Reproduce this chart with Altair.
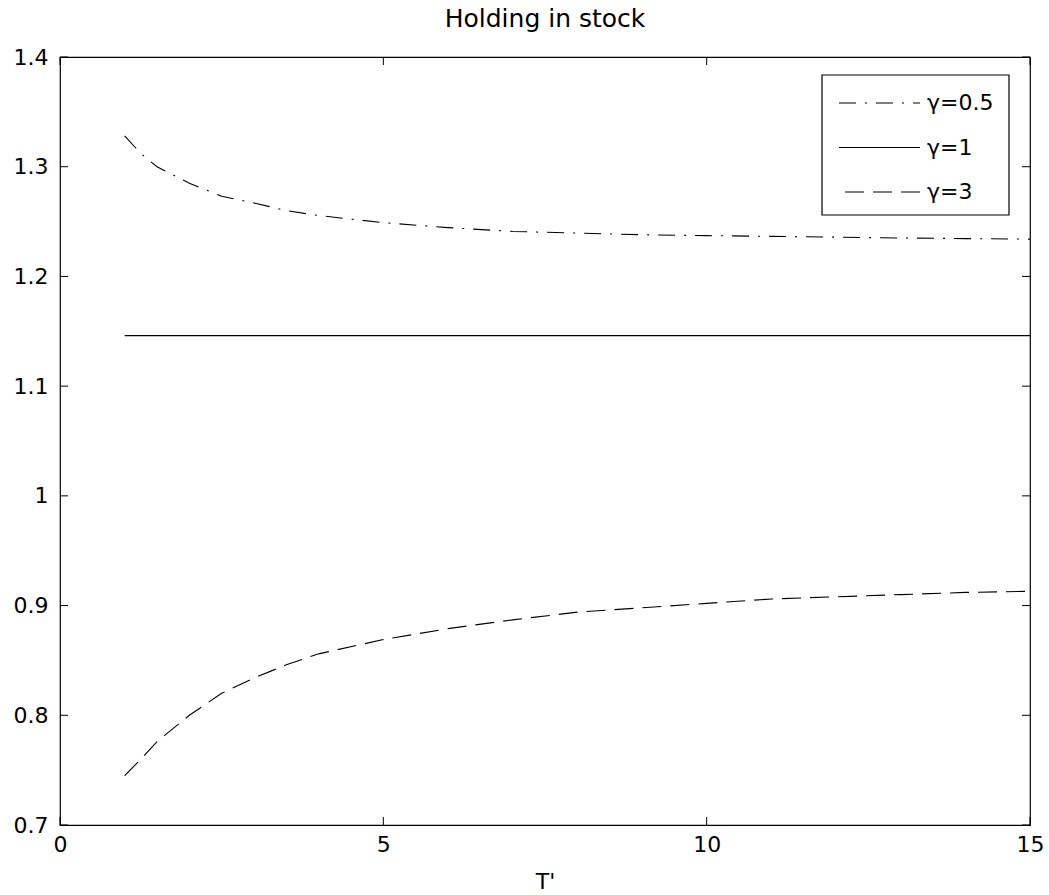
import altair as alt
import pandas as pd

# ---- data ----
T = [1, 1.25, 1.5, 2, 2.5, 3, 3.5, 4, 5, 6, 7, 8, 9, 10, 11, 12, 13, 14, 15]
gamma_05 = [1.328, 1.312, 1.300, 1.285, 1.273, 1.267, 1.260, 1.2555, 1.249, 1.2445,
            1.241, 1.2395, 1.238, 1.2372, 1.2365, 1.2358, 1.235, 1.2345, 1.234]
gamma_3 = [0.745, 0.760, 0.776, 0.800, 0.820, 0.834, 0.846, 0.856, 0.869, 0.879,
           0.887, 0.894, 0.898, 0.902, 0.906, 0.908, 0.910, 0.912, 0.913]
T_flat = [1, 15]
gamma_1 = [1.146, 1.146]

x_ticks = [0, 5, 10, 15]
y_ticks = [0.7, 0.8, 0.9, 1.0, 1.1, 1.2, 1.3, 1.4]
legend_labels = ["γ=0.5", "γ=1", "γ=3"]
title_text = "Holding in stock"
x_title = "T'"

# ---- layout / style ----
W, H = 970, 768
FONT = "DejaVu Sans"
FS = 22
TICK = 8

xs = alt.Scale(domain=[0, 15], nice=False, zero=False)
ys = alt.Scale(domain=[0.7, 1.4], nice=False, zero=False)

df05 = pd.DataFrame({"T": T, "v": gamma_05})
df3 = pd.DataFrame({"T": T, "v": gamma_3})
df1 = pd.DataFrame({"T": T_flat, "v": gamma_1})
ydf = pd.DataFrame({"v": y_ticks})
xdf = pd.DataFrame({"T": x_ticks})

x_axis = alt.Axis(values=x_ticks, ticks=False, domain=False, grid=False, labelFlush=False,
                  labelFont=FONT, labelFontSize=FS, labelColor="black", labelPadding=9,
                  title=x_title, titleFont=FONT, titleFontSize=FS, titleFontWeight="normal",
                  titleColor="black", titlePadding=16)
y_axis = alt.Axis(values=y_ticks, ticks=False, domain=False, grid=False, format=".1~f",
                  labelFlush=False,
                  labelFont=FONT, labelFontSize=FS, labelColor="black", labelPadding=12,
                  title=None)

X = alt.X("T:Q", scale=xs, axis=x_axis)
Y = alt.Y("v:Q", scale=ys, axis=y_axis)

line05 = alt.Chart(df05).mark_line(color="black", strokeWidth=1.1, strokeDash=[17, 9, 2, 9]).encode(x=X, y=Y)
line1 = alt.Chart(df1).mark_line(color="black", strokeWidth=1.1).encode(x=X, y=Y)
line3 = alt.Chart(df3).mark_line(color="black", strokeWidth=1.1, strokeDash=[19, 9]).encode(x=X, y=Y)

# inward ticks on all four sides
tick_left = alt.Chart(ydf).mark_rule(color="black", strokeWidth=1).encode(
    y=Y, x=alt.value(0), x2=alt.value(TICK))
tick_right = alt.Chart(ydf).mark_rule(color="black", strokeWidth=1).encode(
    y=Y, x=alt.value(W - TICK), x2=alt.value(W))
tick_bottom = alt.Chart(xdf).mark_rule(color="black", strokeWidth=1).encode(
    x=X, y=alt.value(H - TICK), y2=alt.value(H))
tick_top = alt.Chart(xdf).mark_rule(color="black", strokeWidth=1).encode(
    x=X, y=alt.value(0), y2=alt.value(TICK))

# legend box
LX0, LX1, LY0, LY1 = 762, 949, 18, 158
legend_df = pd.DataFrame({"label": legend_labels})
legend_box = alt.Chart(pd.DataFrame({"label": ["box"]})).mark_rect(
    fill="white", stroke="black", strokeWidth=1.2).encode(
    x=alt.value(LX0), x2=alt.value(LX1), y=alt.value(LY0), y2=alt.value(LY1))

legend_layers = []
dashes = [[17, 9, 2, 9], None, [19, 9]]
starts = [779, 779, 785]
for i, lab in enumerate(legend_labels):
    yy = 46 + i * 44.5
    kw = {"color": "black", "strokeWidth": 1.1}
    if dashes[i] is not None:
        kw["strokeDash"] = dashes[i]
    legend_layers.append(
        alt.Chart(legend_df).transform_filter(alt.datum.label == lab).mark_rule(**kw).encode(
            x=alt.value(starts[i]), x2=alt.value(860), y=alt.value(yy)))
    legend_layers.append(
        alt.Chart(legend_df).transform_filter(alt.datum.label == lab).mark_text(
            align="left", baseline="middle", font=FONT, fontSize=FS, color="black").encode(
            x=alt.value(867), y=alt.value(yy), text="label:N"))

chart = alt.layer(
    line05, line1, line3, tick_left, tick_right, tick_bottom, tick_top,
    legend_box, *legend_layers
).properties(
    width=W, height=H,
    title=alt.TitleParams(title_text, font=FONT, fontSize=25, fontWeight="normal",
                          color="black", anchor="middle", offset=14),
    autosize=alt.AutoSizeParams(type="none"),
    padding={"left": 60, "top": 57, "right": 19, "bottom": 70},
    background="white",
).configure_view(stroke="black", strokeWidth=1.2)

chart.save("out.html", embed_options={"renderer": "svg", "actions": False})
